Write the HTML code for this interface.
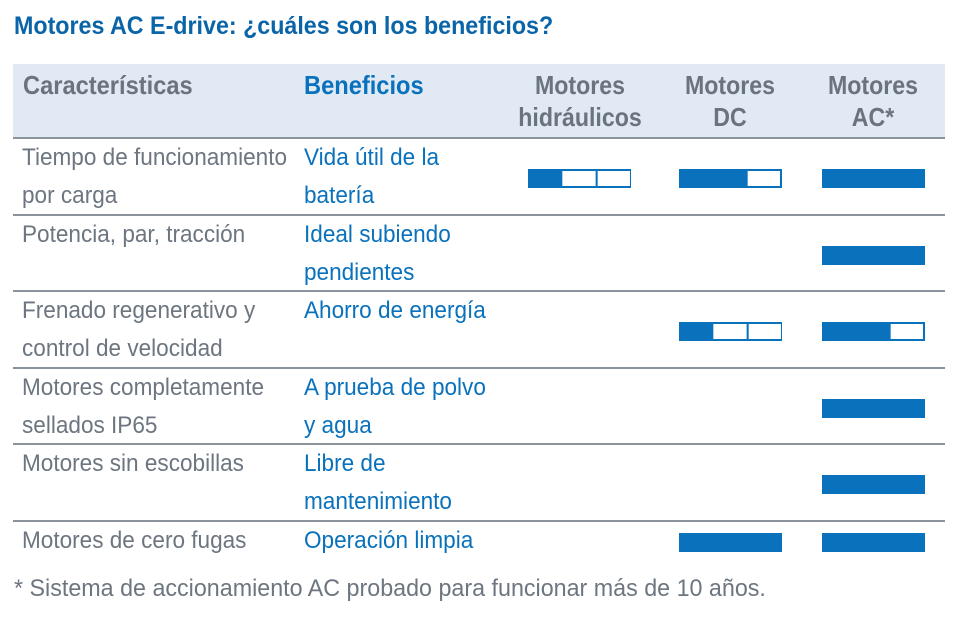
<!DOCTYPE html>
<html><head><meta charset="utf-8"><style>
body{margin:0;width:961px;height:625px;background:#fff;position:relative;overflow:hidden;font-family:"Liberation Sans",sans-serif}
.a{position:absolute;white-space:nowrap;transform-origin:0 0}
.t{left:14px;top:12px;font-size:25px;font-weight:bold;color:#0a64a8;transform:scaleX(0.93)}
.hdr{left:13px;top:64px;width:932px;height:74px;background:#e0e9f4}
.h{font-size:26px;font-weight:bold;color:#6b737c;line-height:32px}
.hc{transform:scaleX(0.91)}
.c{font-size:24px;color:#6d7680;line-height:38px;transform:scaleX(0.94)}
.b{font-size:24px;color:#0a72bc;line-height:38px;transform:scaleX(0.94)}
.line{position:absolute;left:13px;width:932px;height:2px;background:#8a939c}
.fn{left:14px;top:575px;font-size:24px;color:#6d7680;transform:scaleX(0.97)}
.ctr{text-align:center;transform-origin:50% 0;transform:scaleX(0.89)}
</style></head><body>
<div class="a t">Motores AC E-drive: ¿cuáles son los beneficios?</div>
<div class="a hdr"></div>
<div class="a h hc" style="left:23px;top:69px">Características</div>
<div class="a h hc" style="left:304px;top:69px;color:#0a72bc">Beneficios</div>
<div class="a h ctr" style="left:500px;width:160px;top:69px">Motores<br>hidráulicos</div>
<div class="a h ctr" style="left:650px;width:160px;top:69px">Motores<br>DC</div>
<div class="a h ctr" style="left:793px;width:160px;top:69px">Motores<br>AC*</div>
<div id="rows"></div>
<div class="a fn">* Sistema de accionamiento AC probado para funcionar más de 10 años.</div>
<script>
const features=[["Tiempo de funcionamiento","por carga"],["Potencia, par, tracción"],["Frenado regenerativo y","control de velocidad"],["Motores completamente","sellados IP65"],["Motores sin escobillas"],["Motores de cero fugas"]];
const benefits=[["Vida útil de la","batería"],["Ideal subiendo","pendientes"],["Ahorro de energía"],["A prueba de polvo","y agua"],["Libre de","mantenimiento"],["Operación limpia"]];
const hydraulic=[1,0,0,0,0,0];
const dc=[2,0,1,0,0,3];
const ac=[3,3,2,3,3,3];
const series=[hydraulic,dc,ac];
const colX=[528,679,822];
const root=document.getElementById('rows');
const rowTop=i=>138+i*76.6;
function mk(cls,html,l,t,name){const d=document.createElement('div');d.className='a '+cls;d.innerHTML=html;d.style.left=l+'px';d.style.top=t+'px';


root.appendChild(d);return d;}
for(let i=0;i<=5;i++){const l=document.createElement('div');l.className='line';l.style.top=(rowTop(i)-1)+'px';


root.appendChild(l);}
features.forEach((f,i)=>{
 mk('c',f.join('<br>'),22,rowTop(i)+1,'feature-label');
 mk('b',benefits[i].join('<br>'),304,rowTop(i)+1,'benefit-label');
 const lines=Math.max(f.length,benefits[i].length);
 series.forEach((s,j)=>{const v=s[i];if(!v)return;
  const y=rowTop(i)+(lines>1?31:12);
  const svg=document.createElementNS('http://www.w3.org/2000/svg','svg');
  svg.setAttribute('width',103);svg.setAttribute('height',19);
  svg.style.position='absolute';svg.style.left=colX[j]+'px';svg.style.top=y+'px';
  
  
  let h='<rect x="0" y="0" width="103" height="19" fill="#0a72bc"/>';
  for(let k=v;k<3;k++){h+='<rect x="'+(k*34.33+(k==v?0:1))+'" y="2" width="'+(k==2?32.3:33.3-(k==v?0:1))+'" height="15" fill="#fff"/>';}
  svg.innerHTML=h;root.appendChild(svg);
 });
});
</script>
</body></html>
